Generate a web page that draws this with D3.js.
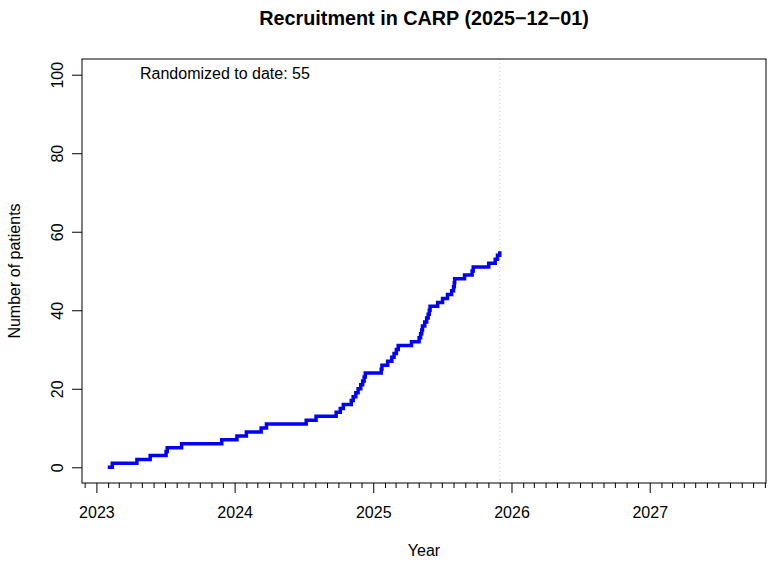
<!DOCTYPE html>
<html>
<head>
<meta charset="utf-8">
<script src="https://cdn.jsdelivr.net/npm/d3@7"></script>
<style>
  html, body { margin: 0; padding: 0; background: #ffffff; }
  svg { display: block; font-family: "Liberation Sans", Arial, Helvetica, sans-serif; }
</style>
</head>
<body>
<svg id="chart" width="768" height="566"></svg>
<script>
// ---- Data ----
const titleText = "Recruitment in CARP (2025\u221212\u221201)";
const reportDate = "2025-12-01";
const startDate = "2023-01-31";
const startCount = 0;
const randDates = [
  "2023-02-12","2023-04-18","2023-05-23","2023-07-04","2023-07-07","2023-08-14",
  "2023-11-28","2024-01-07","2024-02-01","2024-03-11","2024-03-25","2024-07-08",
  "2024-08-03","2024-09-25","2024-10-06","2024-10-14","2024-11-04","2024-11-09",
  "2024-11-16","2024-11-22","2024-11-29","2024-12-04","2024-12-08","2024-12-11",
  "2025-01-22","2025-01-24","2025-02-08","2025-02-19","2025-02-25","2025-03-03",
  "2025-03-08","2025-04-12","2025-05-02","2025-05-06","2025-05-09","2025-05-11",
  "2025-05-17","2025-05-22","2025-05-26","2025-05-29","2025-05-31","2025-06-20",
  "2025-07-03","2025-07-16","2025-07-27","2025-08-01","2025-08-03","2025-08-04",
  "2025-08-30","2025-09-19","2025-09-22","2025-11-02","2025-11-19","2025-11-25",
  "2025-12-01"
];
const cumCounts = [
  1,2,3,4,5,6,7,8,9,10,11,12,13,14,15,16,17,18,19,20,21,22,23,24,25,26,27,28,29,30,
  31,32,33,34,35,36,37,38,39,40,41,42,43,44,45,46,47,48,49,50,51,52,53,54,55
];
const yTicks = [0, 20, 40, 60, 80, 100];
const xTickYears = [2023, 2024, 2025, 2026, 2027];
const xLimits = ["2022-11-24", "2027-11-04"];
const yLimits = [-4, 104];
const annotation = "Randomized to date: 55";
const xLabel = "Year";
const yLabel = "Number of patients";

// ---- Layout ----
const plot = { left: 82, right: 766, top: 59, bottom: 483 };
const parse = d3.utcParse("%Y-%m-%d");

const svg = d3.select("#chart");
const x = d3.scaleUtc().domain(xLimits.map(parse)).range([plot.left, plot.right]);
const y = d3.scaleLinear().domain(yLimits).range([plot.bottom, plot.top]);

const font = 16;

// Title
svg.append("text")
  .attr("x", (plot.left + plot.right) / 2)
  .attr("y", 25)
  .attr("text-anchor", "middle")
  .attr("font-size", 19.8)
  .attr("font-weight", "bold")
  .attr("fill", "#000")
  .text(titleText);

// Dotted vertical line at report date
svg.append("line")
  .attr("x1", x(parse(reportDate))).attr("x2", x(parse(reportDate)))
  .attr("y1", plot.top).attr("y2", plot.bottom)
  .attr("stroke", "#c8c8c8")
  .attr("stroke-width", 1)
  .attr("stroke-dasharray", "1,3");

// Step line
const pts = [[parse(startDate), startCount]].concat(randDates.map((d, i) => [parse(d), cumCounts[i]]));
const line = d3.line()
  .x(d => x(d[0]))
  .y(d => y(d[1]))
  .curve(d3.curveStepAfter);
svg.append("path")
  .datum(pts)
  .attr("d", line)
  .attr("fill", "none")
  .attr("stroke", "#0000ff")
  .attr("stroke-width", 3.5)
  .attr("stroke-linejoin", "miter")
  .attr("stroke-linecap", "butt");

// Box
svg.append("rect")
  .attr("x", plot.left).attr("y", plot.top)
  .attr("width", plot.right - plot.left)
  .attr("height", plot.bottom - plot.top)
  .attr("fill", "none")
  .attr("stroke", "#000")
  .attr("stroke-width", 1);

// X axis: minor monthly ticks
const monthTicks = d3.utcMonth.range(x.domain()[0], x.domain()[1]).filter(d => d.getUTCMonth() !== 0);
const xMinor = svg.append("g")
  .attr("transform", `translate(0,${plot.bottom})`)
  .call(d3.axisBottom(x).tickValues(monthTicks).tickSize(5).tickFormat(""));
xMinor.select(".domain").remove();

// X axis: major yearly ticks
const yearTicks = xTickYears.map(yr => new Date(Date.UTC(yr, 0, 1)));
const xMajor = svg.append("g")
  .attr("transform", `translate(0,${plot.bottom})`)
  .call(d3.axisBottom(x).tickValues(yearTicks).tickSize(10).tickPadding(14).tickFormat(d3.utcFormat("%Y")));
xMajor.select(".domain").remove();
xMajor.selectAll("text").attr("font-size", font).attr("font-family", null).attr("fill", "#000");
svg.selectAll(".tick line").attr("stroke", "#000");

// Y axis
const yAx = svg.append("g")
  .attr("transform", `translate(${plot.left},0)`)
  .call(d3.axisLeft(y).tickValues(yTicks).tickSize(10).tickFormat(d3.format("d")));
yAx.select(".domain").remove();
yAx.selectAll(".tick line").attr("stroke", "#000");
yAx.selectAll("text")
  .attr("font-size", font)
  .attr("font-family", null)
  .attr("fill", "#000")
  .attr("x", null).attr("dy", null)
  .attr("text-anchor", "middle")
  .attr("transform", "translate(-19,0) rotate(-90)");

// Axis titles
svg.append("text")
  .attr("x", (plot.left + plot.right) / 2)
  .attr("y", 556)
  .attr("text-anchor", "middle")
  .attr("font-size", font)
  .attr("fill", "#000")
  .text(xLabel);

svg.append("text")
  .attr("transform", `translate(20,${(plot.top + plot.bottom) / 2}) rotate(-90)`)
  .attr("text-anchor", "middle")
  .attr("font-size", font)
  .attr("fill", "#000")
  .text(yLabel);

// Annotation
svg.append("text")
  .attr("x", 140)
  .attr("y", 79)
  .attr("font-size", font)
  .attr("fill", "#000")
  .text(annotation);
</script>
</body>
</html>
